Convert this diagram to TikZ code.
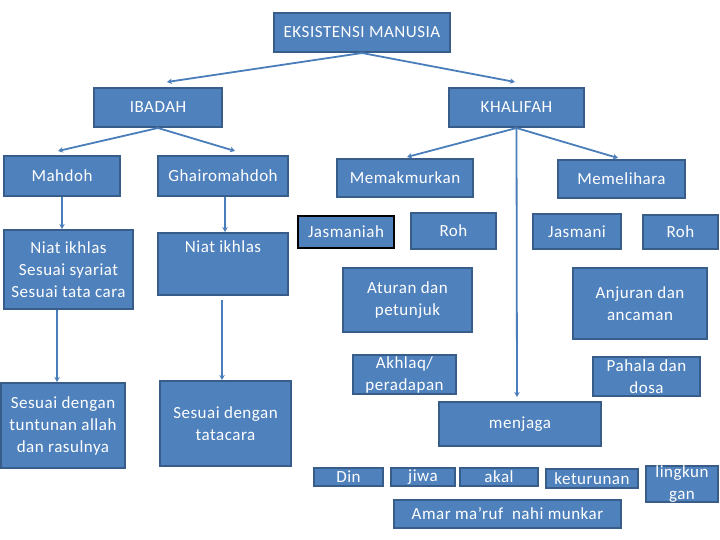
\documentclass[tikz,border=0pt]{standalone}
\usepackage{fontspec}
\setmainfont{Carlito}[LetterSpace=3]
\usetikzlibrary{arrows.meta,calc}
\definecolor{boxfill}{HTML}{4F81BD}
\definecolor{boxedge}{HTML}{385D8A}
\definecolor{linecol}{HTML}{4A7EBB}
\begin{document}
\begin{tikzpicture}[x=1pt,y=-1pt,
  box/.style={draw=boxedge,line width=2pt,fill=boxfill,text=white,inner sep=0pt,align=center,
    font=\fontsize{17}{22}\selectfont},
  conn/.style={draw=linecol,line width=1.8pt,-{Stealth[length=5pt,width=5.5pt]}}]
\useasboundingbox (0,0) rectangle (720,540);
\fill[white] (0,0) rectangle (720,540);
% top
\node[box,minimum width=176pt,minimum height=39pt] (eks) at (362,32.5) {EKSISTENSI MANUSIA};
\node[box,minimum width=128pt,minimum height=39pt] (ibadah) at (158,107.5) {IBADAH};
\node[box,minimum width=135pt,minimum height=39pt] (khalifah) at (516.5,107.5) {KHALIFAH};
% ibadah branch
\node[box,minimum width=116pt,minimum height=40pt] (mahdoh) at (62,176) {Mahdoh};
\node[box,minimum width=130pt,minimum height=40pt] (ghairo) at (223,176) {Ghairomahdoh};
\node[box,minimum width=129pt,minimum height=79pt] (niat1) at (68.5,269.5) {Niat ikhlas\\Sesuai syariat\\Sesuai tata cara};
\node[box,minimum width=130pt,minimum height=62pt] (niat2) at (223,264) {Niat ikhlas\\[6pt]\strut};
\node[box,minimum width=124pt,minimum height=85pt] (sesuai1) at (63,425.5) {Sesuai dengan\\tuntunan allah\\dan rasulnya};
\node[box,minimum width=131pt,minimum height=85pt] (sesuai2) at (225.5,423.5) {Sesuai dengan\\tatacara};
% khalifah branch
\node[box,minimum width=136pt,minimum height=38pt] (memak) at (405,178) {Memakmurkan};
\node[box,minimum width=127pt,minimum height=38pt] (memel) at (621.5,179) {Memelihara};
\node[box,draw=black,line width=1.5pt,minimum width=96pt,minimum height=32pt] (jasmaniah) at (346,232) {Jasmaniah};
\node[box,minimum width=85pt,minimum height=36pt] (roh1) at (453.5,231) {Roh};
\node[box,minimum width=88pt,minimum height=35pt] (jasmani) at (577,231.5) {Jasmani};
\node[box,minimum width=75pt,minimum height=34pt] (roh2) at (680.5,232) {Roh};
\node[box,minimum width=129pt,minimum height=64pt] (aturan) at (407.5,300) {Aturan dan\\petunjuk};
\node[box,minimum width=134pt,minimum height=71pt] (anjuran) at (640,303.5) {Anjuran dan\\ancaman};
\node[box,minimum width=103pt,minimum height=39pt] (akhlaq) at (404.5,374.5) {Akhlaq/\\peradapan};
\node[box,minimum width=107pt,minimum height=39pt] (pahala) at (646.5,376.5) {Pahala dan\\dosa};
\node[box,minimum width=162pt,minimum height=44pt] (menjaga) at (520,424) {menjaga};
\node[box,minimum width=69pt,minimum height=18pt] (din) at (348.5,477) {Din};
\node[box,minimum width=64pt,minimum height=18pt] (jiwa) at (423,477) {jiwa};
\node[box,minimum width=78pt,minimum height=18pt] (akal) at (499,477) {akal};
\node[box,minimum width=92pt,minimum height=19pt] (keturunan) at (592,478.5) {keturunan};
\node[box,minimum width=72pt,minimum height=34pt] (lingkungan) at (682,484) {lingkun\\gan};
\node[box,minimum width=227pt,minimum height=28pt] (amar) at (507.5,514) {Amar ma’ruf\ \ nahi munkar};
% connectors
\draw[conn] (eks.south) -- ($(ibadah.north)+(9,-5)$);
\draw[conn] (eks.south) -- ($(khalifah.north)+(-1.5,-5)$);
\draw[conn] (ibadah.south) -- ($(mahdoh.north)+(-4,-4)$);
\draw[conn] (ibadah.south) -- ($(ghairo.north)+(12,-4)$);
\draw[conn] (khalifah.south) -- ($(memak.north)+(2,-1)$);
\draw[conn] (khalifah.south) -- ($(memel.north)+(-3.5,-1)$);
\draw[conn] (khalifah.south) -- ($(menjaga.north)+(-3,-4)$);
\draw[conn] (mahdoh.south) -- ($(niat1.north)+(-6.5,0)$);
\draw[conn] ($(ghairo.south)+(2,0)$) -- ($(niat2.north)+(2,0)$);
\draw[conn] ($(niat1.south)+(-11.5,0)$) -- ($(sesuai1.north)+(-6,0)$);
\draw[conn] ($(niat2.south)+(-1,4)$) -- ($(sesuai2.north)+(-3.5,0)$);
\end{tikzpicture}
\end{document}
